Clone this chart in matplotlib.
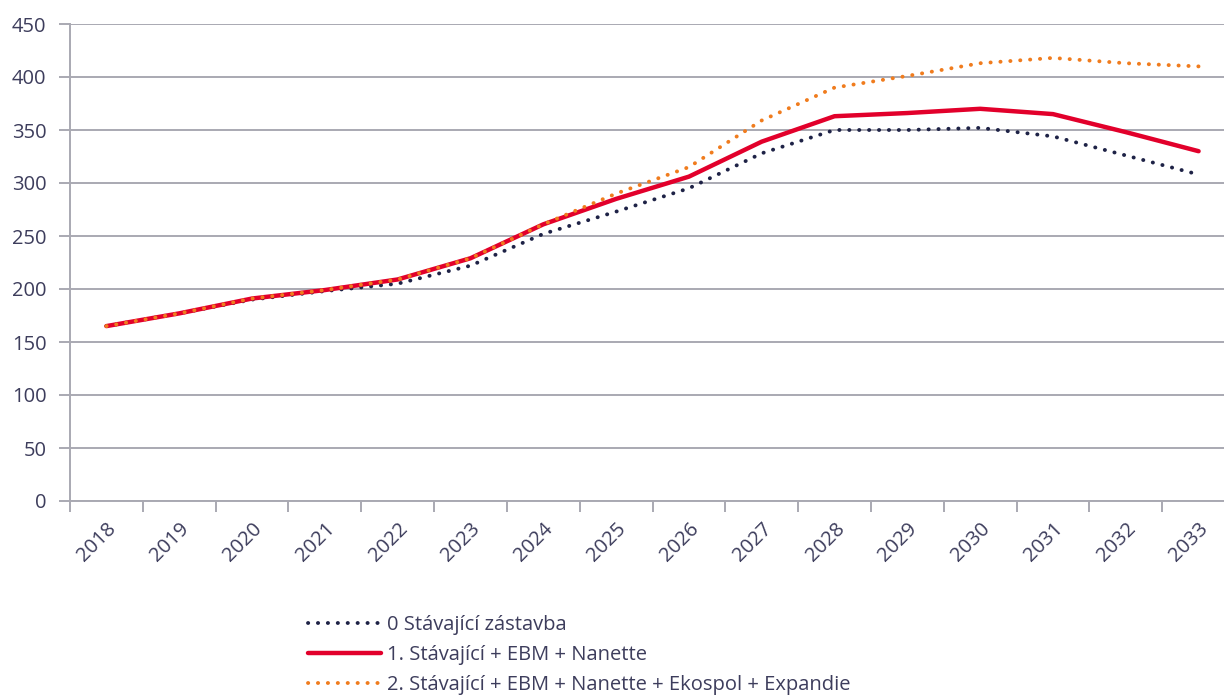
import numpy as np
import matplotlib
matplotlib.use("Agg")
import matplotlib.pyplot as plt
from matplotlib.ticker import FixedLocator

plt.rcParams['font.family'] = ['Open Sans', 'DejaVu Sans']

years = [str(y) for y in range(2018, 2034)]
s0 = [165, 177, 190, 198, 205, 222, 252, 273, 295, 328, 350, 350, 352, 344, 326, 308]
s1 = [165, 177, 191, 199, 209, 229, 261, 285, 306, 339, 363, 366, 370, 365, 348, 330]
s2 = [165, 177, 191, 199, 209, 229, 261, 290, 315, 359, 390, 401, 413, 418, 413, 410]
labels = ["0 Stávající zástavba",
          "1. Stávající + EBM + Nanette",
          "2. Stávající + EBM + Nanette + Ekospol + Expandie"]

txt = '#3d3d5c'
grid = '#a9a9b2'

fig = plt.figure(figsize=(12.24, 6.99), dpi=100)
ax = fig.add_axes([70/1224, 1-501/699, 1165/1224, 477/699])

x = np.arange(len(years))
ax.plot(x, s0, color='#1e2246', lw=2.8, linestyle=(0, (0.05, 2.5)),
        dash_capstyle='round', label=labels[0], zorder=3)
ax.plot(x, s1, color='#e2002b', lw=3.2, solid_capstyle='round', label=labels[1], zorder=4)
ax.plot(x, s2, color='#f07c1e', lw=2.8, linestyle=(0, (0.05, 2.5)),
        dash_capstyle='round', label=labels[2], zorder=5)

ax.set_xlim(-0.5, len(years) - 0.5)
ax.set_ylim(0, 450)
ax.set_yticks(np.arange(0, 451, 50))
ax.yaxis.grid(True, color=grid, lw=1.4)
ax.set_axisbelow(True)

ax.set_xticks(x)
ax.set_xticklabels(years, rotation=45, ha='right', rotation_mode='anchor')
ax.xaxis.set_minor_locator(FixedLocator(np.arange(-0.5, len(years), 1)))
ax.tick_params(axis='x', which='major', length=0, pad=13, labelsize=14.5, labelcolor=txt)
ax.tick_params(axis='x', which='minor', length=8, width=1.4, color=grid, direction='out')
ax.tick_params(axis='y', length=8, width=1.4, color=grid, labelsize=14.5, labelcolor=txt, pad=9)

for s in ['top', 'right']:
    ax.spines[s].set_visible(False)
for s in ['left', 'bottom']:
    ax.spines[s].set_color(grid)
    ax.spines[s].set_linewidth(1.4)

leg = fig.legend(loc='upper left', bbox_to_anchor=(300/1224, 1-607/699), frameon=False,
                 fontsize=14.5, labelcolor=txt, handlelength=3.6, handletextpad=0.3,
                 labelspacing=0.5, borderaxespad=0)

fig.savefig('out.png', dpi=100)
